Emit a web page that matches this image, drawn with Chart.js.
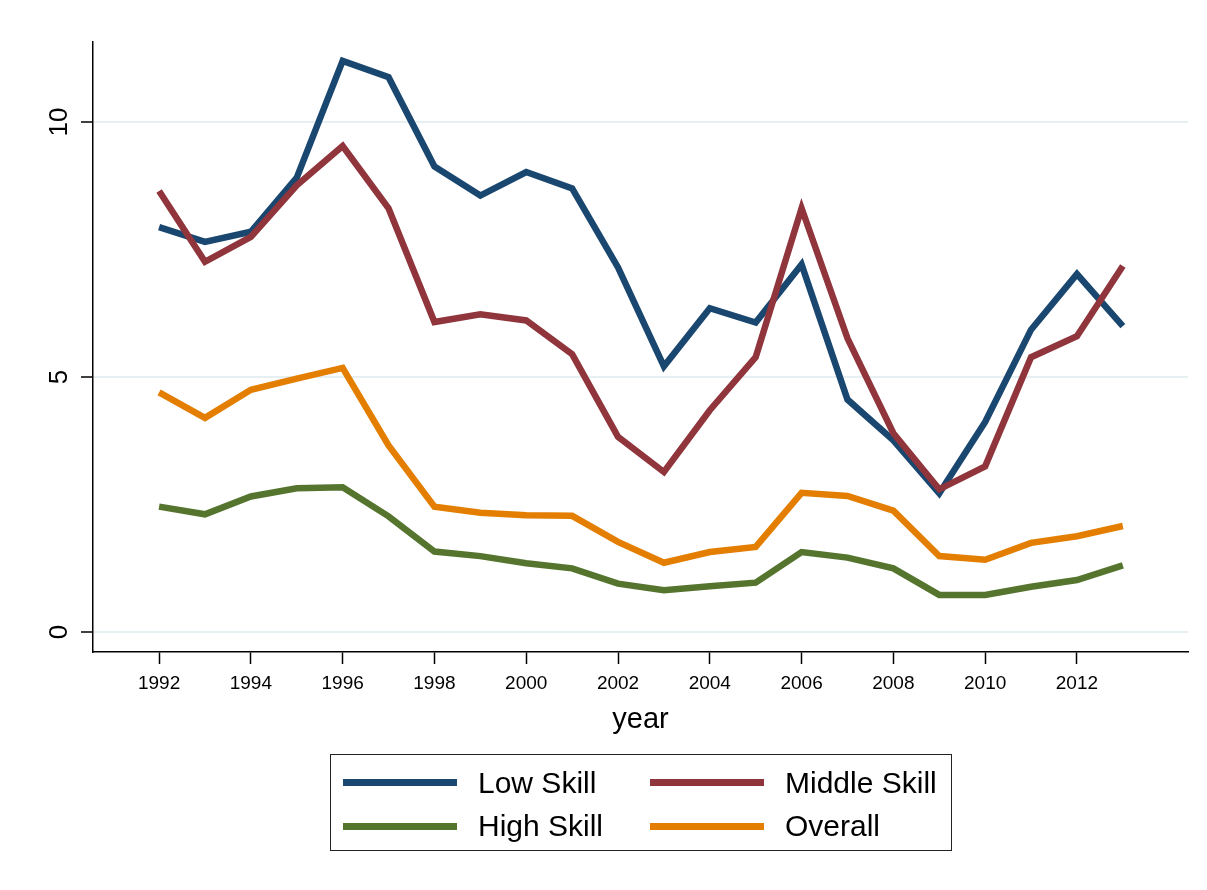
<!DOCTYPE html>
<html>
<head>
<meta charset="utf-8">
<script src="https://cdn.jsdelivr.net/npm/chart.js@4"></script>
<style>
    body { margin: 0; background: #fff; font-family: "Liberation Sans", Arial, sans-serif; }
    #wrap { position: relative; width: 1207px; height: 890px; }
    #legend {
        position: absolute; left: 330px; top: 754px; width: 622px; height: 97px;
        border: 1.5px solid #222; box-sizing: border-box;
        display: grid; grid-template-columns: 307px 307px; grid-auto-rows: 43.5px;
        padding: 6px 0 0 12px;
    }
    .item { display: flex; align-items: center; font-size: 30px; color: #000; }
    .item span.line { display: inline-block; width: 114px; height: 7px; margin-right: 21px; }
</style>
</head>
<body>
<div id="wrap">
    <canvas id="chart" width="1207" height="890"></canvas>
    <div id="legend"></div>
</div>
<script>
// data
const years = [1992, 1993, 1994, 1995, 1996, 1997, 1998, 1999, 2000, 2001, 2002,
               2003, 2004, 2005, 2006, 2007, 2008, 2009, 2010, 2011, 2012, 2013];
const lowSkill = [7.94, 7.65, 7.85, 8.91, 11.20, 10.88, 9.13, 8.56, 9.02, 8.70, 7.15,
                  5.21, 6.35, 6.07, 7.21, 4.56, 3.76, 2.72, 4.12, 5.93, 7.02, 6.00];
const middleSkill = [8.65, 7.26, 7.75, 8.76, 9.53, 8.31, 6.08, 6.23, 6.11, 5.45, 3.83,
                     3.14, 4.35, 5.39, 8.31, 5.76, 3.90, 2.80, 3.25, 5.39, 5.80, 7.18];
const highSkill = [2.46, 2.31, 2.66, 2.82, 2.84, 2.27, 1.58, 1.49, 1.35, 1.25, 0.95,
                   0.82, 0.90, 0.97, 1.57, 1.46, 1.25, 0.73, 0.73, 0.89, 1.02, 1.31];
const overall = [4.70, 4.20, 4.75, 4.97, 5.18, 3.66, 2.46, 2.34, 2.29, 2.28, 1.77,
                 1.36, 1.57, 1.67, 2.73, 2.67, 2.38, 1.49, 1.42, 1.75, 1.88, 2.08];

const xTicks = [1992, 1994, 1996, 1998, 2000, 2002, 2004, 2006, 2008, 2010, 2012];
const yTicks = [0, 5, 10];

const seriesNames = ['Low Skill', 'Middle Skill', 'High Skill', 'Overall'];
const seriesValues = [lowSkill, middleSkill, highSkill, overall];
const seriesColors = ['#1a476f', '#90353b', '#55752f', '#e37e00'];

const FONT = '"Liberation Sans", Arial, sans-serif';

const datasets = seriesNames.map((name, i) => ({
    label: name,
    data: years.map((y, j) => ({ x: y, y: seriesValues[i][j] })),
    borderColor: seriesColors[i],
    backgroundColor: seriesColors[i],
    borderWidth: 6.5,
    pointRadius: 0,
    tension: 0,
    fill: false
}));

// draw order: overall & high at bottom like the reference
datasets[0].order = 2;
datasets[1].order = 1;

new Chart(document.getElementById('chart'), {
    type: 'line',
    data: { datasets: datasets },
    options: {
        responsive: false,
        animation: false,
        layout: { padding: { top: 42, right: 19, left: 0, bottom: 153 } },
        plugins: { legend: { display: false }, tooltip: { enabled: false } },
        scales: {
            x: {
                type: 'linear',
                min: 1990.56,
                max: 2014.42,
                afterBuildTicks: scale => { scale.ticks = xTicks.map(v => ({ value: v })); },
                afterFit: scale => { scale.height = 85; },
                grid: { drawOnChartArea: false, drawTicks: true, tickLength: 12, tickColor: '#000', tickWidth: 1.5 },
                border: { display: true, color: '#000', width: 1.5 },
                ticks: {
                    color: '#000',
                    padding: 8,
                    maxRotation: 0,
                    font: { family: FONT, size: 19 },
                    callback: v => String(v)
                },
                title: {
                    display: true,
                    text: 'year',
                    color: '#000',
                    padding: 0,
                    font: { family: FONT, size: 29 }
                }
            },
            y: {
                min: -0.39,
                max: 11.57,
                afterBuildTicks: scale => { scale.ticks = yTicks.map(v => ({ value: v })); },
                afterFit: scale => { scale.width = 93; },
                grid: { color: '#e6eff2', lineWidth: 2, drawTicks: true, tickLength: 12, tickColor: '#000', tickWidth: 1.5 },
                border: { display: true, color: '#000', width: 1.5 },
                ticks: {
                    color: '#000',
                    padding: 7,
                    minRotation: 90,
                    maxRotation: 90,
                    crossAlign: 'center',
                    font: { family: FONT, size: 26 },
                    callback: v => String(v)
                }
            }
        }
    }
});

// legend box under the plot
const legend = document.getElementById('legend');
seriesNames.forEach((name, i) => {
    const item = document.createElement('div');
    item.className = 'item';
    item.innerHTML = `<span class="line" style="background:${seriesColors[i]}"></span>${name}`;
    legend.appendChild(item);
});
</script>
</body>
</html>
